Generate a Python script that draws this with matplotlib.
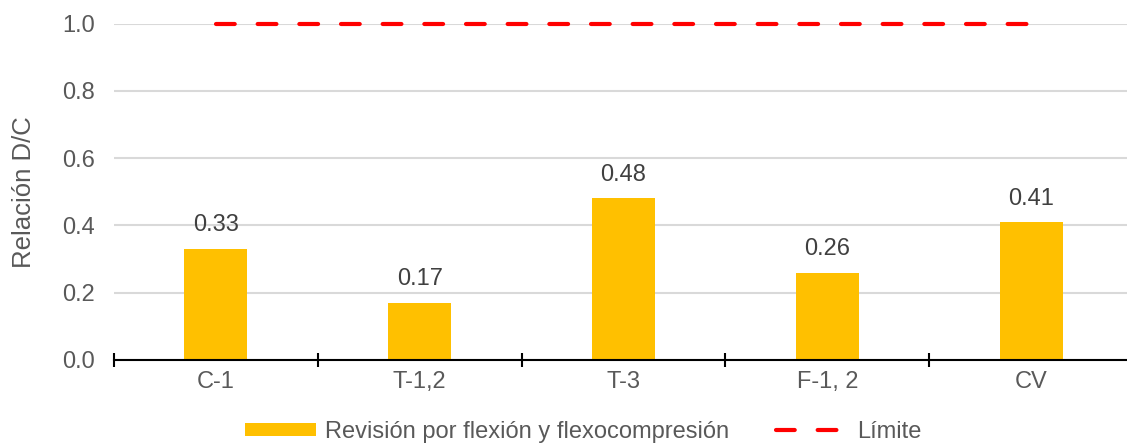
import numpy as np
import matplotlib as mpl
import matplotlib.pyplot as plt
from matplotlib.lines import Line2D
from matplotlib.patches import Patch

categories = ['C-1', 'T-1,2', 'T-3', 'F-1, 2', 'CV']
dc_ratio = [0.33, 0.17, 0.48, 0.26, 0.41]
limit = [1.0, 1.0, 1.0, 1.0, 1.0]
yticks = [0.0, 0.2, 0.4, 0.6, 0.8, 1.0]

mpl.rcParams['font.family'] = ['Liberation Sans', 'DejaVu Sans']
mpl.rcParams['font.size'] = 17

gray = '#595959'
bar_color = '#FFC000'

fig = plt.figure(figsize=(11.27, 4.45), dpi=100)
ax = fig.add_axes([114 / 1127, 1 - 360 / 445, (1133 - 114) / 1127, (360 - 23.5) / 445])

x = np.arange(len(categories))
bars = ax.bar(x, dc_ratio, width=0.31, color=bar_color, zorder=2)
ax.plot(x, limit, color='red', lw=3, ls=(0, (4.5, 5.5)), dash_capstyle='round',
        clip_on=False, zorder=3)

for xi, v in zip(x, dc_ratio):
    ax.annotate('%.2f' % v, (xi, v), xytext=(0, 9), textcoords='offset points',
                ha='center', va='bottom', color='#404040', fontsize=17)

ax.set_xlim(-0.5, len(categories) - 0.5)
ax.set_ylim(0, 1.0)
ax.set_yticks(yticks, ['%.1f' % t for t in yticks])
ax.set_xticks(x, categories)
ax.set_xticks(np.arange(-0.5, len(categories), 1.0), minor=True)
ax.tick_params(axis='x', which='major', length=0, pad=8, colors=gray, labelsize=17)
ax.tick_params(axis='x', which='minor', length=10, width=1.5, direction='inout', color='black')
ax.tick_params(axis='y', length=0, pad=14, colors=gray, labelsize=17)

ax.grid(which='major', axis='y', color='#D9D9D9', linewidth=1.5, zorder=0)
ax.set_axisbelow(True)
for s in ['top', 'right', 'left']:
    ax.spines[s].set_visible(False)
ax.spines['bottom'].set_linewidth(1.5)
ax.spines['bottom'].set_color('black')
ax.spines['bottom'].set_zorder(4)

fig.text(24 / 1127, 1 - 192 / 445, 'Relación D/C', rotation=90, ha='center', va='center',
         color=gray, fontsize=18.5)

handles = [Patch(facecolor=bar_color, edgecolor='none'),
           Line2D([], [], color='red', lw=3, ls=(0, (4.5, 5.5)), dash_capstyle='round')]
labels = ['Revisión por flexión y flexocompresión', 'Límite']
leg = fig.legend(handles, labels, loc='center', bbox_to_anchor=(583 / 1127, 1 - 432 / 445),
                 ncol=2, frameon=False, handlelength=3.0, handleheight=0.5,
                 handletextpad=0.4, columnspacing=2.0, fontsize=17)
for t in leg.get_texts():
    t.set_color(gray)

fig.savefig('out.png', dpi=100)
